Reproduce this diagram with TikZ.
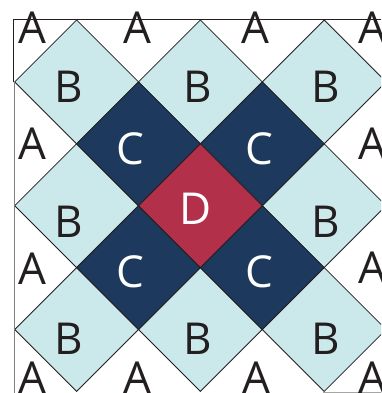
\documentclass[tikz,border=0pt]{standalone}
\usepackage{fontspec}
\setmainfont{Open Sans}
\definecolor{lblue}{HTML}{CBE8EA}
\definecolor{navy}{HTML}{1D3A5E}
\definecolor{crimson}{HTML}{B3304A}
\definecolor{ink}{HTML}{231F20}
\begin{document}
\begin{tikzpicture}[x=1pt,y=-1pt,
  tile/.style={draw=ink,line width=0.8pt,line join=miter},
  lab/.style={inner sep=0pt,font=\fontsize{44}{44}\selectfont,text=ink},
  wlab/.style={lab,text=white}]
\useasboundingbox (0,0) rectangle (381,393);
\clip (0,0) rectangle (381,393);
\fill[white] (0,0) rectangle (381,393);
\def\s{61.9}
\def\xo{14.7}
\def\yo{20}
% diamonds
\foreach \a/\b/\c in {1/1/lblue,3/1/lblue,5/1/lblue,1/3/lblue,5/3/lblue,1/5/lblue,3/5/lblue,5/5/lblue,
                      2/2/navy,4/2/navy,2/4/navy,4/4/navy,3/3/crimson}{
  \pgfmathsetmacro\cx{\xo+\a*\s}
  \pgfmathsetmacro\cy{\yo+\b*\s}
  \path[tile,fill=\c] (\cx-\s,\cy) -- (\cx,\cy-\s) -- (\cx+\s,\cy) -- (\cx,\cy+\s) -- cycle;
}
% frame
\draw[ink,line width=0.8pt] (13.3,82) -- (13.3,19.5) -- (381,19.5);
\draw[gray,line width=0.8pt] (14.5,82) -- (14.5,393);
\draw[gray!70,line width=0.8pt] (323,392.3) -- (381,392.3);
% labels
\foreach \x/\y [count=\i] in {32.8/27.5,137.3/27.5,255.7/27.5,372/27.5,
  32.8/144,32.8/268.3,32.8/378,372/143.3,372/267.3,372/378,137.8/378,256.2/378}
  \node[lab] (a\i) at (\x,\y) {A};
\foreach \x/\y [count=\i] in {68.7/86.3,197.8/86.5,325.3/86.3,68.7/221.7,325.3/221.7,
  68.7/338.3,197.8/338.8,325.3/338.3}
  \node[lab] (b\i) at (\x,\y) {B};
\foreach \x/\y [count=\i] in {130.3/149,259/149,130.3/271.7,259.5/272}
  \node[wlab] (c\i) at (\x,\y) {C};
\node[wlab] (d) at (196,208.3) {D};
\end{tikzpicture}
\end{document}
